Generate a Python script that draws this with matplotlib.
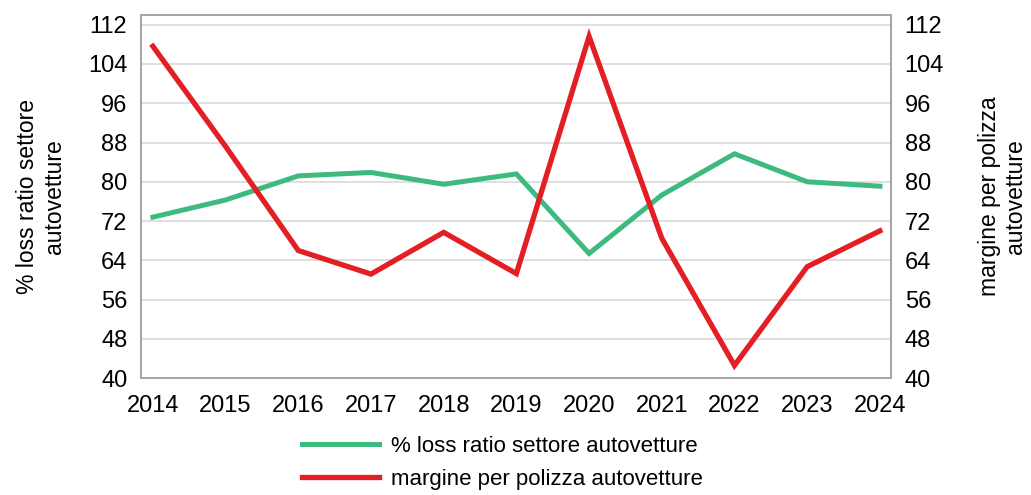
import matplotlib.pyplot as plt

plt.rcParams['font.family'] = ['Liberation Sans', 'DejaVu Sans']

years = [2014, 2015, 2016, 2017, 2018, 2019, 2020, 2021, 2022, 2023, 2024]
loss_ratio = [72.8, 76.3, 81.2, 81.9, 79.5, 81.6, 65.4, 77.3, 85.7, 80.0, 79.1]
margine = [107.6, 87.2, 66.0, 61.2, 69.7, 61.3, 109.6, 68.5, 42.6, 62.7, 70.0]
yticks = [40, 48, 56, 64, 72, 80, 88, 96, 104, 112]

green = '#3dba7e'
red = '#e31e24'
grid_col = '#d9d9d9'
frame_col = '#a6a6a6'

fig = plt.figure(figsize=(10.31, 4.95), dpi=100)
ax = fig.add_axes([0.137, 0.236, 0.727, 0.734])
ax2 = ax.twinx()

l1, = ax.plot(years, loss_ratio, color=green, lw=3.6, solid_joinstyle='miter',
              label='% loss ratio settore autovetture', zorder=3)
l2, = ax2.plot(years, margine, color=red, lw=3.8, solid_joinstyle='miter',
               label='margine per polizza autovetture', zorder=3)

for a in (ax, ax2):
    a.set_ylim(40, 114)
    a.set_yticks(yticks)
    a.set_xlim(2013.84, 2024.15)
    a.tick_params(axis='y', length=0, labelsize=17, pad=10)
    a.tick_params(axis='x', length=0, labelsize=17, pad=12)
    for s in a.spines.values():
        s.set_color(frame_col)
        s.set_linewidth(1.3)

ax.set_xticks(years)
ax.set_xticklabels([str(y) for y in years])
ax.yaxis.grid(True, color=grid_col, lw=1.2)
ax.set_axisbelow(True)

ax.set_ylabel('% loss ratio settore\nautovetture', fontsize=16.5, labelpad=16)
ax2.set_ylabel('margine per polizza\nautovetture', fontsize=16.5, labelpad=60,
               rotation=90, va='bottom')

fig.legend(handles=[l1, l2], loc='lower center', bbox_to_anchor=(0.487, -0.03),
           ncol=1, frameon=False, fontsize=16, handlelength=3.5,
           handletextpad=0.5, labelspacing=0.55)

fig.savefig('out.png', dpi=100)
